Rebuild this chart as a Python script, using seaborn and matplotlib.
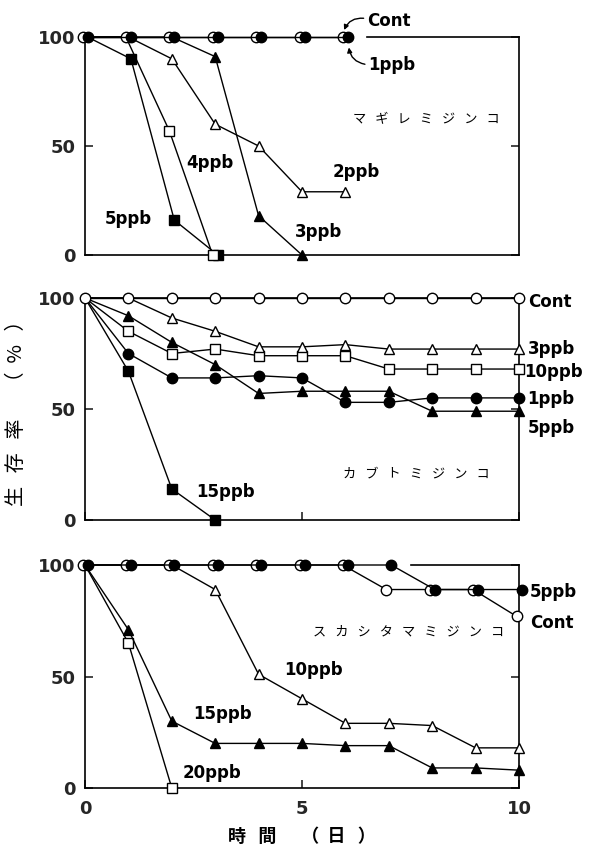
import matplotlib
matplotlib.use("Agg")
import matplotlib.pyplot as plt
import matplotlib.transforms as mtransforms
import seaborn as sns

# ---------------- survival data (%) by day ----------------
days = list(range(11))

# マギレミジンコ
mag_cont = [100, 100, 100, 100, 100, 100, 100]
mag_1ppb = [100, 100, 100, 100, 100, 100, 100]
mag_2ppb = [100, 100, 90, 60, 50, 29, 29]
mag_3ppb = [100, 100, 100, 91, 18, 0]
mag_4ppb = [100, 100, 57, 0]
mag_5ppb = [100, 90, 16, 0]

# カブトミジンコ
kab_cont = [100, 100, 100, 100, 100, 100, 100, 100, 100, 100, 100]
kab_3ppb = [100, 100, 91, 85, 78, 78, 79, 77, 77, 77, 77]
kab_10ppb = [100, 85, 75, 77, 74, 74, 74, 68, 68, 68, 68]
kab_1ppb = [100, 75, 64, 64, 65, 64, 53, 53, 55, 55, 55]
kab_5ppb = [100, 92, 80, 70, 57, 58, 58, 58, 49, 49, 49]
kab_15ppb = [100, 67, 14, 0]

# スカシタマミジンコ
suk_cont = [100, 100, 100, 100, 100, 100, 100, 89, 89, 89, 77]
suk_5ppb = [100, 100, 100, 100, 100, 100, 100, 100, 89, 89, 89]
suk_10ppb = [100, 100, 100, 89, 51, 40, 29, 29, 28, 18, 18]
suk_15ppb = [100, 71, 30, 20, 20, 20, 19, 19, 9, 9, 8]
suk_20ppb = [100, 65, 0]

species = ["マギレミジンコ", "カブトミジンコ", "スカシタマミジンコ"]
y_ticks = [0, 50, 100]
x_ticks = [0, 5, 10]
y_title = "生   存   率      （  %   ）"
x_title = "時   間      （  日   ）"

# ---------------- style ----------------
sns.set_style("white")
plt.rcParams["font.family"] = ["DejaVu Sans", "Noto Sans CJK JP"]
JP = ["Noto Sans CJK JP", "DejaVu Sans"]
LAB = dict(fontsize=12, fontweight="bold", color="black")

fig = plt.figure(figsize=(5.92, 8.48), dpi=100)
L, W = 85 / 592, 434 / 592
ax_top = fig.add_axes([L, 1 - 255 / 848, W, 218 / 848])
ax_mid = fig.add_axes([L, 1 - 520 / 848, W, 222 / 848])
ax_bot = fig.add_axes([L, 1 - 788 / 848, W, 223 / 848])


def series(ax, y, marker, filled, shift=0.0, mark_from=0, ms=7.5, z=3):
    x = days[:len(y)]
    sns.lineplot(x=x, y=y, ax=ax, color="black", linewidth=1.0,
                 marker=marker, markersize=ms,
                 markerfacecolor="black" if filled else "white",
                 markeredgecolor="black", markeredgewidth=1.0,
                 markevery=slice(mark_from, None), clip_on=False,
                 zorder=z, errorbar=None)
    line = ax.lines[-1]
    if shift:
        off = mtransforms.ScaledTranslation(shift / 72, 0, fig.dpi_scale_trans)
        line.set_transform(ax.transData + off)


def frame(ax, top_from=None, xlabels=False, xticks=True):
    ax.set_xlim(0, 10)
    ax.set_ylim(0, 100)
    for s in ax.spines.values():
        s.set_visible(True)
        s.set_linewidth(1.2)
        s.set_color("black")
    if top_from is not None:
        ax.spines["top"].set_bounds(top_from, 10)
    ax.set_yticks(y_ticks)
    ax.set_yticklabels([str(t) for t in y_ticks], fontsize=13, fontweight="bold")
    ax.set_xticks(x_ticks if xticks else [])
    if xlabels:
        ax.set_xticklabels([str(t) for t in x_ticks], fontsize=13, fontweight="bold")
    else:
        ax.set_xticklabels([])
    ax.tick_params(axis="y", direction="in", length=6, width=1.2, left=True,
                   right=True, pad=7)
    ax.tick_params(axis="x", direction="in", length=6, width=1.2, bottom=True,
                   top=False, pad=9)
    ax.set_xlabel("")
    ax.set_ylabel("")


def spaced(name, sep="   "):
    return sep.join(name)


# ---------------- top panel ----------------
ax = ax_top
series(ax, mag_5ppb, "s", True, shift=1.8, mark_from=1, ms=7)
series(ax, mag_4ppb, "s", False, shift=-1.8, mark_from=2, ms=7)
series(ax, mag_3ppb, "^", True, mark_from=3, ms=6.5)
series(ax, mag_2ppb, "^", False, mark_from=2, ms=6.5)
series(ax, mag_1ppb, "o", True, shift=1.8, z=5)
series(ax, mag_cont, "o", False, shift=-1.8, z=4)
frame(ax, top_from=6.5, xticks=False)
ax.text(6.5, 105, "Cont", **LAB)
ax.text(6.52, 84.9, "1ppb", **LAB)
ax.text(5.71, 35.9, "2ppb", **LAB)
ax.text(2.34, 39.8, "4ppb", **LAB)
ax.text(0.46, 14.2, "5ppb", **LAB)
ax.text(4.84, 8.4, "3ppb", **LAB)
ax.annotate("", xy=(5.97, 103.2), xytext=(6.42, 108.6), annotation_clip=False,
            arrowprops=dict(arrowstyle="-|>", color="black", lw=1.0,
                            mutation_scale=7, shrinkA=0, shrinkB=0,
                            connectionstyle="arc3,rad=0.35"))
ax.annotate("", xy=(6.08, 95.2), xytext=(6.45, 87.5), annotation_clip=False,
            arrowprops=dict(arrowstyle="-|>", color="black", lw=1.0,
                            mutation_scale=7, shrinkA=0, shrinkB=0,
                            connectionstyle="arc3,rad=-0.35"))
ax.text(6.17, 60.5, spaced(species[0]), family=JP, fontsize=9.5, color="black")

# ---------------- middle panel ----------------
ax = ax_mid
series(ax, kab_15ppb, "s", True, mark_from=1, ms=7)
series(ax, kab_5ppb, "^", True, mark_from=1, ms=6.5)
series(ax, kab_1ppb, "o", True, mark_from=1)
series(ax, kab_10ppb, "s", False, mark_from=1, ms=7)
series(ax, kab_3ppb, "^", False, mark_from=2, ms=6.5)
series(ax, kab_cont, "o", False, z=5)
frame(ax)
ax.text(10.2, 95.8, "Cont", **LAB)
ax.text(10.2, 74.8, "3ppb", **LAB)
ax.text(10.12, 64.5, "10ppb", **LAB)
ax.text(10.2, 52.3, "1ppb", **LAB)
ax.text(10.2, 39.3, "5ppb", **LAB)
ax.text(2.57, 10.5, "15ppb", **LAB)
ax.text(5.94, 19, spaced(species[1]), family=JP, fontsize=9.5, color="black")

# ---------------- bottom panel ----------------
ax = ax_bot
series(ax, suk_20ppb, "s", False, mark_from=1, ms=7)
series(ax, suk_15ppb, "^", True, mark_from=1, ms=6.5)
series(ax, suk_10ppb, "^", False, mark_from=3, ms=6.5)
series(ax, suk_5ppb, "o", True, shift=1.8, z=5)
series(ax, suk_cont, "o", False, shift=-1.8, z=4)
frame(ax, top_from=7.5, xlabels=True)
ax.text(10.25, 85.5, "5ppb", **LAB)
ax.text(10.25, 71.6, "Cont", **LAB)
ax.text(4.6, 50.7, "10ppb", **LAB)
ax.text(2.5, 31, "15ppb", **LAB)
ax.text(2.26, 4.6, "20ppb", **LAB)
ax.text(5.25, 68.6, spaced(species[2]), family=JP, fontsize=9.5, color="black")

# ---------------- axis titles ----------------
fig.text(17 / 592, 1 - 408 / 848, y_title, family=JP, fontsize=14.5,
         rotation=90, ha="center", va="center", color="black")
fig.text(302 / 592, 1 - 836 / 848, x_title, family=JP, fontsize=13,
         fontweight="bold", ha="center", va="center", color="black")

fig.savefig("out.png", dpi=100)
